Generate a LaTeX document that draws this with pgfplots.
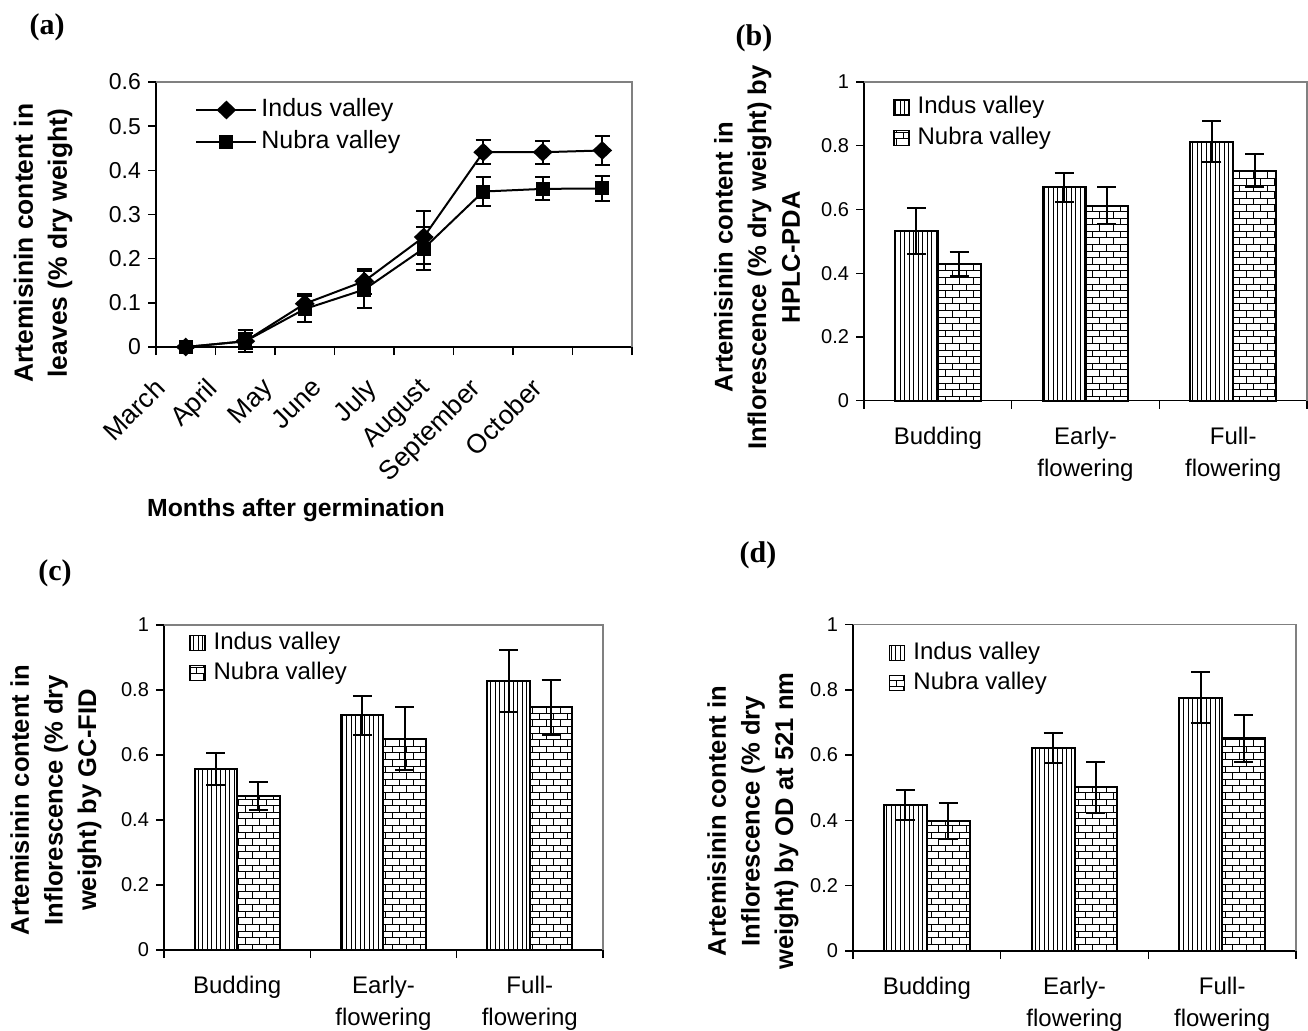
\documentclass[border=0pt]{standalone}
\usepackage{pgfplots}
\pgfplotsset{compat=1.18}
\usepackage{fontspec}
\setmainfont{Liberation Sans}
\newfontfamily\panelfont{Liberation Serif}
\usetikzlibrary{patterns,patterns.meta}

\pgfdeclarepatternformonly{mybricks}{\pgfqpoint{-0.5pt}{-0.5pt}}{\pgfqpoint{7.5pt}{7.1pt}}{\pgfqpoint{7pt}{6.6pt}}{%
  \pgfsetlinewidth{0.5pt}%
  \pgfpathmoveto{\pgfqpoint{0pt}{0pt}}\pgfpathlineto{\pgfqpoint{7pt}{0pt}}%
  \pgfpathmoveto{\pgfqpoint{0pt}{3.3pt}}\pgfpathlineto{\pgfqpoint{7pt}{3.3pt}}%
  \pgfpathmoveto{\pgfqpoint{0pt}{0pt}}\pgfpathlineto{\pgfqpoint{0pt}{3.3pt}}%
  \pgfpathmoveto{\pgfqpoint{3.5pt}{3.3pt}}\pgfpathlineto{\pgfqpoint{3.5pt}{6.6pt}}%
  \pgfusepath{stroke}}

\pgfplotsset{
  common/.style={
    scale only axis,
    anchor=south west,
    axis x line*=bottom, axis y line*=left,
    axis line style={black, line width=0.7pt},
    tick align=outside, major tick length=4pt,
    tick style={black, line width=0.7pt},
    xticklabels={},
    extra x tick style={major tick length=0pt},
    /pgf/number format/assume math mode=true,
    ylabel style={align=center, anchor=center},
    clip=false,
  },
  barpanel/.style={
    common,
    ybar=0pt, bar width=0.29,
    xmin=-0.5, xmax=2.5, ymin=0, ymax=1,
    xtick={-0.5,0.5,1.5,2.5},
    extra x ticks={0,1,2},
    extra x tick labels={Budding, Early-\\flowering, Full-\\flowering},
    xticklabel style={align=center, font=\fontsize{12}{16}\selectfont, anchor=north, yshift=-9.5pt},
    ytick={0,0.2,0.4,0.6,0.8,1},
    yticklabel style={font=\fontsize{10}{12}\selectfont},
    ylabel style={font=\bfseries\fontsize{12.8}{16.8}\selectfont},
    legend style={draw=none, fill=none, inner sep=0pt, anchor=west,
      font=\fontsize{12}{14}\selectfont, legend cell align=left,
      column sep=3.5pt, row sep=2.5pt,
      nodes={inner sep=0.5pt, text height=9pt, text depth=2.6pt}},
    legend image code/.code={\draw[##1, line width=0.6pt] (0pt,-3.75pt) rectangle (7.5pt,3.75pt);},
    error bars/error bar style={line width=1pt, black},
    error bars/error mark options={rotate=90, mark size=4.75pt, line width=1pt, black},
  },
  indus/.style={draw=black, line width=1pt, pattern={Lines[angle=90, distance=2.25pt, line width=0.5pt]}},
  nubra/.style={draw=black, line width=1pt, pattern=mybricks},
}

\begin{document}
\begin{tikzpicture}
\useasboundingbox (0,0) rectangle (654pt,515pt);

% panel labels
\node[font=\panelfont\bfseries\fontsize{15}{18}\selectfont] at (23.5pt,501.5pt) {(a)};
\node[font=\panelfont\bfseries\fontsize{15}{18}\selectfont] at (377pt,496pt) {(b)};
\node[font=\panelfont\bfseries\fontsize{15}{18}\selectfont] at (27.5pt,228.5pt) {(c)};
\node[font=\panelfont\bfseries\fontsize{15}{18}\selectfont] at (379pt,237.5pt) {(d)};

% (a)
\begin{axis}[common,
  at={(78pt,341.5pt)}, width=238pt, height=132.5pt,
  xmin=0, xmax=8, ymin=0, ymax=0.6,
  xtick={0,1,2,3,4,5,6,7,8},
  extra x ticks={0.15,1.03,1.97,2.79,3.71,4.6,5.45,6.49},
  extra x tick labels={March,April,May,June,July,August,September,October},
  xticklabel style={xshift=-6pt, yshift=-14.5pt, rotate=45, anchor=north east, inner sep=0pt, font=\fontsize{13.3}{15}\selectfont},
  ytick={0,0.1,0.2,0.3,0.4,0.5,0.6},
  yticklabel style={font=\fontsize{11.5}{13}\selectfont},
  ylabel={Artemisinin content in\\leaves (\% dry weight)},
  ylabel style={at={(axis description cs:-0.237,0.392)}, font=\bfseries\fontsize{13.2}{17}\selectfont},
  xlabel={Months after germination},
  xlabel style={at={(axis description cs:0.294,-0.615)}, anchor=center, font=\bfseries\fontsize{12.4}{15}\selectfont},
  legend style={draw=none, fill=none, inner sep=0pt, anchor=west,
    at={(axis description cs:0.082,0.834)},
    font=\fontsize{12.5}{15}\selectfont, legend cell align=left,
    column sep=1.5pt, row sep=3pt,
    nodes={inner sep=0.5pt, text height=9.3pt, text depth=2.7pt}},
  legend image code/.code={\draw[mark repeat=2,mark phase=2,#1] plot coordinates {(0pt,0pt) (15pt,0pt) (30pt,0pt)};},
]
\draw[gray, line width=0.7pt] (rel axis cs:0,1) -- (rel axis cs:1,1) -- (rel axis cs:1,0);
\addplot[black, line width=1pt, mark=diamond*, mark size=4pt, mark options={solid, xscale=1.4},
  error bars/.cd, y dir=both, y explicit,
  error bar style={line width=1pt},
  error mark options={rotate=90, mark size=3.75pt, line width=1pt}]
  table[x=x, y=y, y error=e] {
x y e
0.5 0 0
1.5 0.013 0.025
2.5 0.098 0.022
3.5 0.149 0.028
4.5 0.249 0.060
5.5 0.441 0.027
6.5 0.441 0.026
7.5 0.445 0.033
};
\addlegendentry{Indus valley}
\addplot[black, line width=1pt, mark=square*, mark size=3pt, mark options={solid},
  error bars/.cd, y dir=both, y explicit,
  error bar style={line width=1pt},
  error mark options={rotate=90, mark size=3.75pt, line width=1pt}]
  table[x=x, y=y, y error=e] {
x y e
0.5 0 0
1.5 0.013 0.018
2.5 0.086 0.030
3.5 0.130 0.041
4.5 0.223 0.049
5.5 0.352 0.032
6.5 0.358 0.026
7.5 0.359 0.028
};
\addlegendentry{Nubra valley}
\end{axis}

% (b)
\begin{axis}[barpanel,
  at={(432pt,314.65pt)}, width=221.5pt, height=159.35pt,
  ylabel={Artemisinin content in\\Inflorescence (\% dry weight) by\\HPLC-PDA},
  ylabel style={at={(axis description cs:-0.2415,0.45)}},
  legend style={at={(axis description cs:0.0655,0.8725)}},
]
\draw[gray, line width=0.7pt] (rel axis cs:0,1) -- (rel axis cs:1,1) -- (rel axis cs:1,0);
\addplot[indus, error bars/.cd, y dir=both, y explicit] table[x=x, y=y, y error=e] {
x y e
0 0.533 0.072
1 0.669 0.045
2 0.813 0.065
};
\addlegendentry{Indus valley}
\addplot[nubra, error bars/.cd, y dir=both, y explicit] table[x=x, y=y, y error=e] {
x y e
0 0.430 0.038
1 0.611 0.058
2 0.722 0.052
};
\addlegendentry{Nubra valley}
\end{axis}

% (c)
\begin{axis}[barpanel,
  at={(82pt,40pt)}, width=219.5pt, height=162.5pt,
  ylabel={Artemisinin content in\\Inflorescence (\% dry\\weight) by GC-FID},
  ylabel style={at={(axis description cs:-0.246,0.4615)}},
  legend style={at={(axis description cs:0.057,0.8985)}},
]
\draw[gray, line width=0.7pt] (rel axis cs:0,1) -- (rel axis cs:1,1) -- (rel axis cs:1,0);
\addplot[indus, error bars/.cd, y dir=both, y explicit] table[x=x, y=y, y error=e] {
x y e
0 0.558 0.049
1 0.723 0.060
2 0.827 0.096
};
\addlegendentry{Indus valley}
\addplot[nubra, error bars/.cd, y dir=both, y explicit] table[x=x, y=y, y error=e] {
x y e
0 0.474 0.042
1 0.650 0.097
2 0.747 0.085
};
\addlegendentry{Nubra valley}
\end{axis}

% (d)
\begin{axis}[barpanel,
  at={(426.5pt,39.5pt)}, width=221.5pt, height=163.25pt,
  ylabel={Artemisinin content in\\Inflorescence (\% dry\\weight) by OD at 521 nm},
  ylabel style={at={(axis description cs:-0.2257,0.398)}},
  legend style={at={(axis description cs:0.081,0.867)}},
]
\draw[gray, line width=0.7pt] (rel axis cs:0,1) -- (rel axis cs:1,1) -- (rel axis cs:1,0);
\addplot[indus, error bars/.cd, y dir=both, y explicit] table[x=x, y=y, y error=e] {
x y e
0 0.447 0.047
1 0.621 0.046
2 0.776 0.078
};
\addlegendentry{Indus valley}
\addplot[nubra, error bars/.cd, y dir=both, y explicit] table[x=x, y=y, y error=e] {
x y e
0 0.399 0.055
1 0.501 0.078
2 0.651 0.072
};
\addlegendentry{Nubra valley}
\end{axis}
\end{tikzpicture}
\end{document}
